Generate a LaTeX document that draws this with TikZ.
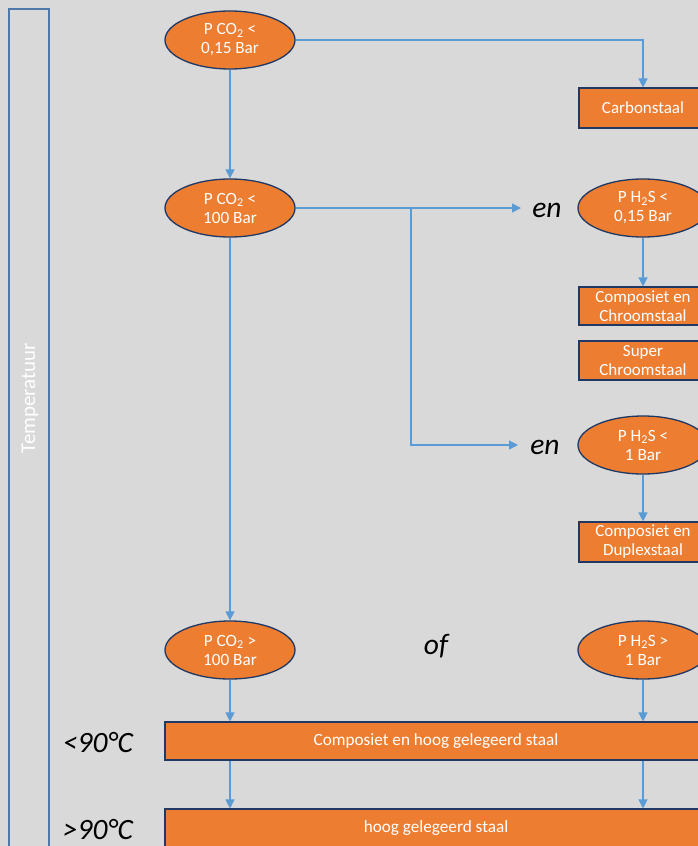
\documentclass[tikz,border=0pt]{standalone}
\usepackage{fontspec}
\setmainfont{Carlito}
\usetikzlibrary{shapes.geometric,arrows.meta}
\definecolor{bg}{HTML}{D9D9D9}
\definecolor{org}{HTML}{ED7D31}
\definecolor{navy}{HTML}{1F3864}
\definecolor{arr}{HTML}{5B9BD5}
\definecolor{tbar}{HTML}{4F77A8}
\tikzset{
  ell/.style={ellipse, fill=org, draw=navy, line width=1.3pt, minimum width=130pt, minimum height=58pt, inner sep=0pt, text=white, align=center, font=\fontsize{17.2}{19}\selectfont},
  obox/.style={rectangle, fill=org, draw=navy, line width=1.1pt, minimum width=128pt, inner sep=0pt, text=white, align=center, font=\fontsize{17}{19}\selectfont},
  wbox/.style={rectangle, fill=org, draw=navy, line width=1.1pt, minimum width=542pt, minimum height=38pt, inner sep=0pt, text=white, align=center, font=\fontsize{17.2}{19}\selectfont},
  lbl/.style={inner sep=0pt, font=\fontsize{29.5}{31}\selectfont\itshape, text=black},
  conn/.style={draw=arr, line width=1.2pt, -{Triangle[length=9pt,width=9pt]}},
}
\begin{document}
\begin{tikzpicture}[x=1pt,y=-1pt]
\useasboundingbox (0,0) rectangle (698,846);
\fill[bg] (0,0) rectangle (698,846);
% temperature bar
\draw[tbar, line width=1.8pt] (9,9) rectangle (49,870);
\node[rotate=90, text=white, font=\fontsize{21}{22}\selectfont] (temp) at (30,398) {Temperatuur};
% ellipses
\node[ell] (e1) at (230,40) {P CO\textsubscript{2} <\\0,15 Bar};
\node[ell] (e2) at (230,208) {P CO\textsubscript{2} <\\100 Bar};
\node[ell] (e3) at (643,208) {P H\textsubscript{2}S <\\0,15 Bar};
\node[ell] (e4) at (643,445) {P H\textsubscript{2}S <\\1 Bar};
\node[ell] (e5) at (230,650) {P CO\textsubscript{2} >\\100 Bar};
\node[ell] (e6) at (643,650) {P H\textsubscript{2}S >\\1 Bar};
% boxes
\node[obox, minimum height=40pt] (carbon) at (643,108) {Carbonstaal};
\node[obox, minimum height=38pt] (chroom) at (643,306) {Composiet en\\Chroomstaal};
\node[obox, minimum height=39pt] (super) at (643,360.5) {Super\\Chroomstaal};
\node[obox, minimum height=40pt] (duplex) at (643,542) {Composiet en\\Duplexstaal};
\node[wbox] (big1) at (436,741) {Composiet en hoog gelegeerd staal};
\node[wbox] (big2) at (436,828) {hoog gelegeerd staal};
% labels
\node[lbl] (en1) at (547,210) {en};
\node[lbl] (en2) at (545,447) {en};
\node[lbl] (of) at (436,646) {of};
\node[lbl] (lt) at (98,743) {<90°C};
\node[lbl] (gt) at (98,830) {>90°C};
\coordinate (br) at (411,208);
\coordinate (t1) at (521,208);
\coordinate (t2) at (518,445);
% connectors
\draw[conn] (e1.east) -| (carbon.north);
\draw[conn] (e1.south) -- (e2.north);
\draw[conn] (e2.east) -- (t1);
\draw[conn] (br) |- (t2);
\draw[conn] (e3.south) -- (chroom.north);
\draw[conn] (e4.south) -- (duplex.north);
\draw[conn] (e2.south) -- (e5.north);
\draw[conn] (e5.south) -- (e5.south |- big1.north);
\draw[conn] (e6.south) -- (e6.south |- big1.north);
\draw[conn] (big1.south -| e5.south) -- (big2.north -| e5.south);
\draw[conn] (big1.south -| e6.south) -- (big2.north -| e6.south);
\end{tikzpicture}
\end{document}
